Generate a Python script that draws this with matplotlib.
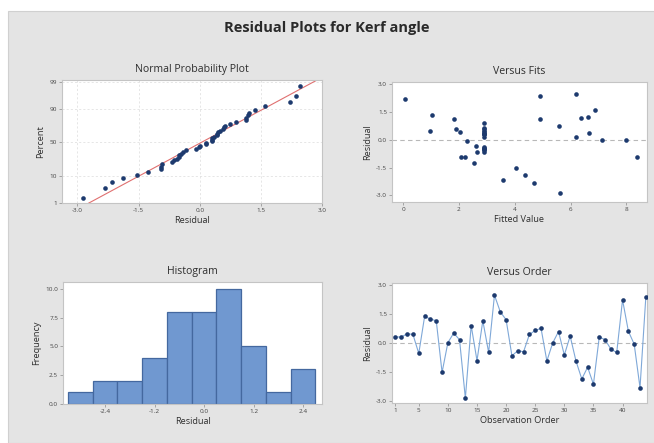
from statistics import NormalDist

import matplotlib

matplotlib.use("Agg")

import matplotlib.pyplot as plt
import numpy as np
from matplotlib.patches import Rectangle

RESIDUALS = [
    0.29, 0.29, 0.46, 0.42, -0.56, 1.35, 1.22, 1.13, -1.54, 0.00,
    0.49, 0.15, -2.87, 0.88, -0.93, 1.13, -0.51, 2.45, 1.59, 1.18,
    -0.68, -0.42, -0.47, 0.42, 0.63, 0.74, -0.95, -0.02, 0.57, -0.64,
    0.34, -0.95, -1.88, -1.27, -2.15, 0.29, 0.15, -0.34, -0.51, 2.21,
    0.59, -0.08, -2.33, 2.36,
]
FITTED = [
    2.91, 2.91, 2.91, 2.03, 2.91, 1.05, 6.61, 4.90, 4.06, 8.00,
    0.96, 6.21, 5.61, 2.91, 2.09, 1.84, 2.91, 6.21, 6.87, 6.38,
    2.63, 2.91, 2.91, 2.91, 2.91, 5.58, 2.23, 7.13, 2.91, 2.91,
    6.65, 8.38, 4.38, 2.55, 3.57, 2.91, 2.91, 2.60, 2.91, 0.05,
    1.88, 2.29, 4.70, 4.90,
]
HIST_EDGES = [-3.3, -2.7, -2.1, -1.5, -0.9, -0.3, 0.3, 0.9, 1.5, 2.1, 2.7]

NPP_XTICKS = [-3.0, -1.5, 0.0, 1.5, 3.0]
NPP_PCT = [1, 10, 50, 90, 99]
FIT_XTICKS = [0, 2, 4, 6, 8]
RES_YTICKS = [-3.0, -1.5, 0.0, 1.5, 3.0]
HIST_XTICKS = [-2.4, -1.2, 0.0, 1.2, 2.4]
HIST_YTICKS = [0.0, 2.5, 5.0, 7.5, 10.0]
ORDER_XTICKS = [1, 5, 10, 15, 20, 25, 30, 35, 40]

BG = "#e4e4e4"
INK = "#2e2e2e"
DOT = "#1d3a6e"
SPINE = "#c4c4c4"
MARK = 11
TICK_SIZE = 4.6
LABEL_SIZE = 6.6
TITLE_SIZE = 7.6

W, H = 654, 443


def px_axes(fig, left, top, right, bottom):
    return fig.add_axes([left / W, 1 - bottom / H, (right - left) / W, (bottom - top) / H])


def style(ax, title, xlabel, ylabel):
    ax.set_facecolor("white")
    for s in ax.spines.values():
        s.set_color(SPINE)
        s.set_linewidth(0.8)
    ax.tick_params(length=2, width=0.6, color="#999999", labelsize=TICK_SIZE,
                   labelcolor="#444444", pad=1.5)
    ax.set_title(title, fontsize=TITLE_SIZE, color=INK, pad=6)
    ax.set_xlabel(xlabel, fontsize=LABEL_SIZE, color=INK, labelpad=2)
    ax.set_ylabel(ylabel, fontsize=LABEL_SIZE, color=INK, labelpad=3)


def fmt1(vals):
    return ["%.1f" % v for v in vals]


def main():
    plt.rcParams.update({"font.family": ["Open Sans", "DejaVu Sans"],
                         "axes.unicode_minus": False})
    fig = plt.figure(figsize=(W / 100, H / 100), dpi=100)
    fig.patch.set_facecolor("white")
    fig.add_artist(Rectangle((8 / W, 0), 1, 1 - 11 / H, transform=fig.transFigure,
                             facecolor=BG, edgecolor="#d0d0d0", linewidth=0.8, zorder=-10))
    fig.text(0.5, 1 - 28 / H, "Residual Plots for Kerf angle", ha="center", va="center",
             fontsize=10.5, fontweight="bold", color="#2a2a2a")

    res = np.array(RESIDUALS)
    fit = np.array(FITTED)
    n = len(res)
    nd = NormalDist()

    # normal probability plot
    ax = px_axes(fig, 62, 80, 322, 203)
    style(ax, "Normal Probability Plot", "Residual", "Percent")
    srt = np.sort(res)
    z = np.array([nd.inv_cdf((i + 1 - 0.3) / (n + 0.4)) for i in range(n)])
    mu, sd = res.mean(), res.std(ddof=1)
    xl = np.array([-3.4, 3.0])
    ax.plot(xl, (xl - mu) / sd, color="#e07070", linewidth=0.8, zorder=2)
    ax.scatter(srt, z, s=MARK, color=DOT, zorder=3, linewidths=0)
    yt = [nd.inv_cdf(p / 100) for p in NPP_PCT]
    ax.set_yticks(yt, [str(p) for p in NPP_PCT])
    ax.set_xticks(NPP_XTICKS, fmt1(NPP_XTICKS))
    ax.set_xlim(-3.38, 3.0)
    ax.set_ylim(yt[0] - 0.01, yt[-1] + 0.06)
    ax.grid(True, color="#dcdcdc", linestyle=(0, (3, 3)), linewidth=0.5)
    ax.set_axisbelow(True)

    # versus fits
    ax = px_axes(fig, 392, 82, 647, 202)
    style(ax, "Versus Fits", "Fitted Value", "Residual")
    ax.axhline(0, color="#b8b8b8", linestyle=(0, (4, 3)), linewidth=0.8, zorder=1)
    ax.scatter(fit, res, s=MARK, color=DOT, zorder=3, linewidths=0)
    ax.set_xticks(FIT_XTICKS)
    ax.set_yticks(RES_YTICKS, fmt1(RES_YTICKS))
    ax.set_xlim(-0.4, 8.74)
    ax.set_ylim(-3.35, 3.1)

    # histogram
    ax = px_axes(fig, 63, 282, 322, 404)
    style(ax, "Histogram", "Residual", "Frequency")
    ax.hist(res, bins=HIST_EDGES, color="#7098d0", edgecolor="#44689f", linewidth=0.9)
    ax.set_xticks(HIST_XTICKS, fmt1(HIST_XTICKS))
    ax.set_yticks(HIST_YTICKS, fmt1(HIST_YTICKS))
    ax.set_xlim(-3.42, 2.86)
    ax.set_ylim(0, 10.6)

    # versus order
    ax = px_axes(fig, 392, 283, 647, 403)
    style(ax, "Versus Order", "Observation Order", "Residual")
    ax.axhline(0, color="#b8b8b8", linestyle=(0, (4, 3)), linewidth=0.8, zorder=1)
    order = np.arange(1, n + 1)
    ax.plot(order, res, color="#7fa8d8", linewidth=0.8, zorder=2)
    ax.scatter(order, res, s=MARK, color=DOT, zorder=3, linewidths=0)
    ax.set_xticks(ORDER_XTICKS)
    ax.set_yticks(RES_YTICKS, fmt1(RES_YTICKS))
    ax.set_xlim(0.4, 44.2)
    ax.set_ylim(-3.12, 3.08)

    fig.savefig("out.png", dpi=100, facecolor="white")
    plt.close(fig)


if __name__ == "__main__":
    main()
